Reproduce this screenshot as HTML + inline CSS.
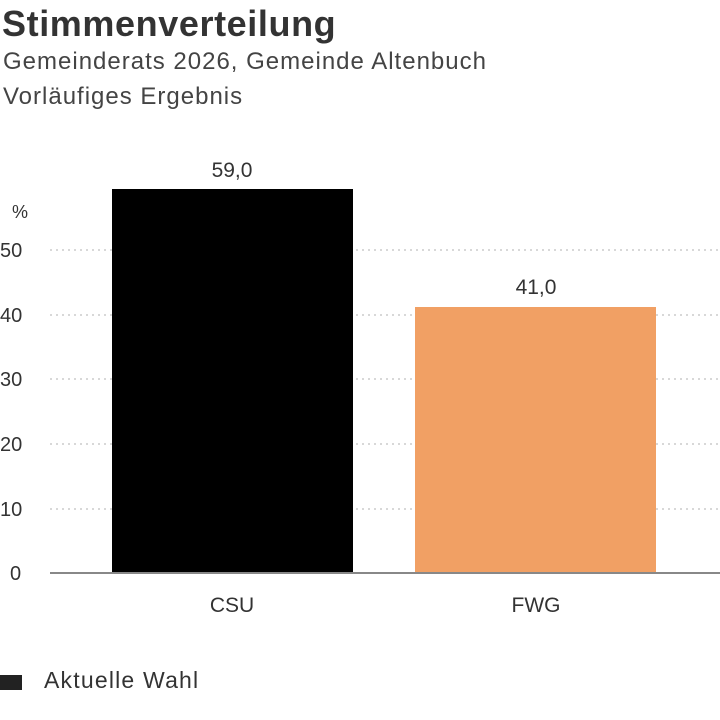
<!DOCTYPE html>
<html><head><meta charset="utf-8"><style>
body{margin:0;width:720px;height:720px;background:#fff;overflow:hidden;font-family:"Liberation Sans",sans-serif;color:#333;position:relative}
.t{position:absolute;white-space:nowrap}
</style></head><body>
<div class="t" style="left:2px;top:3px;font-size:36px;font-weight:bold;color:#333;letter-spacing:0.6px">Stimmenverteilung</div>
<div class="t" style="left:3px;top:48px;font-size:24px;color:#444;letter-spacing:1px">Gemeinderats 2026, Gemeinde Altenbuch</div>
<div class="t" style="left:3px;top:83px;font-size:24px;color:#444;letter-spacing:1px">Vorläufiges Ergebnis</div>
<svg width="720" height="720" style="position:absolute;left:0;top:0" font-family="Liberation Sans, sans-serif">
<g stroke="#ccc" stroke-width="1.5" stroke-dasharray="2,4">
<line x1="50" x2="720" y1="250" y2="250"/>
<line x1="50" x2="720" y1="315" y2="315"/>
<line x1="50" x2="720" y1="379" y2="379"/>
<line x1="50" x2="720" y1="444" y2="444"/>
<line x1="50" x2="720" y1="509" y2="509"/>
</g>
<rect x="112" y="189" width="241" height="384" fill="#000"/>
<rect x="415" y="307" width="241" height="266" fill="#f1a064"/>
<line x1="50" x2="720" y1="573" y2="573" stroke="#888" stroke-width="2"/>
<g font-size="20" fill="#333">
<text x="12" y="218" font-size="18">%</text>
<text x="0" y="257">50</text>
<text x="0" y="322">40</text>
<text x="0" y="386">30</text>
<text x="0" y="451">20</text>
<text x="0" y="516">10</text>
<text x="10" y="580">0</text>
<text x="232" y="177" text-anchor="middle" font-size="21">59,0</text>
<text x="536" y="294" text-anchor="middle" font-size="21">41,0</text>
<text x="232" y="612" text-anchor="middle" font-size="21">CSU</text>
<text x="536" y="612" text-anchor="middle" font-size="21">FWG</text>
<text x="44" y="688" font-size="23" letter-spacing="1.2">Aktuelle Wahl</text>
</g>
<rect x="0" y="675" width="22" height="15" fill="#222"/>
</svg>
</body></html>
